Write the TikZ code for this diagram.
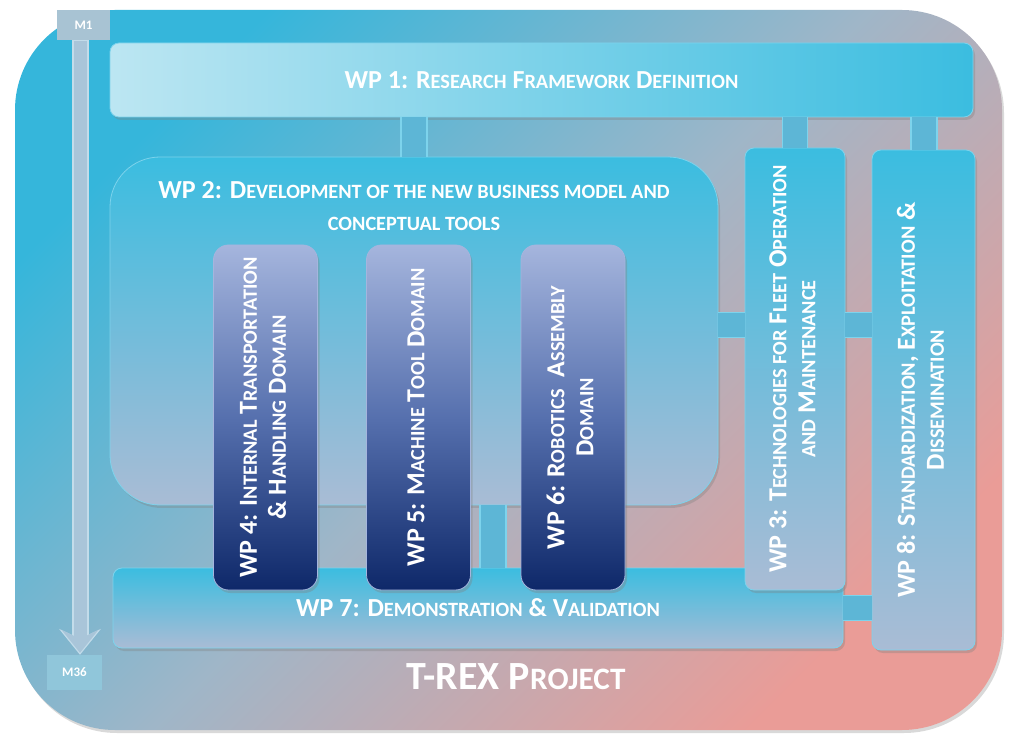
\documentclass[tikz,border=0pt]{standalone}
\usepackage{fontspec}
\setmainfont{Carlito}
\usetikzlibrary{shadows,arrows.meta}

\definecolor{outcyan}{HTML}{35B6DB}
\definecolor{outgrey}{HTML}{9FB6C8}
\definecolor{outpink}{HTML}{EA9C97}
\definecolor{wpcyan}{HTML}{3BBDE0}
\definecolor{wppale}{HTML}{BCE6F2}
\definecolor{wpgrey}{HTML}{A9BCD5}
\definecolor{wpedge}{HTML}{7DD3EC}
\definecolor{domtop}{HTML}{A5B5DD}
\definecolor{dommid}{HTML}{5670AE}
\definecolor{domnavy}{HTML}{0E2869}
\definecolor{linkblue}{HTML}{5DB6D6}
\definecolor{mgrey}{HTML}{A8C3D3}
\definecolor{mblue}{HTML}{90C6DA}
\definecolor{timeblue}{HTML}{A9C5D9}
\definecolor{timeedge}{HTML}{C3DCEA}

\newcommand{\sm}[1]{\scalebox{0.78}{#1}}

\begin{document}
\begin{tikzpicture}[x=1pt, y=1pt,
	every wp/.style={rounded corners=9pt, text=white, align=center, inner sep=0pt,
		font=\bfseries\fontsize{26}{29}\selectfont, draw=wpedge, line width=0.8pt,
		drop shadow={opacity=0.35, shadow xshift=2pt, shadow yshift=-3pt}},
	wp plain/.style={every wp, top color=wpcyan, bottom color=wpgrey},
	wp domain/.style={every wp, rounded corners=15pt, draw=domtop, top color=domtop, bottom color=domnavy, middle color=dommid},
	link/.style={draw=wpedge, line width=28pt, postaction={draw=linkblue, line width=24pt}},
	milestone/.style={text=white, font=\bfseries\fontsize{13}{15}\selectfont, inner sep=0pt}]

		\useasboundingbox (0,0) rectangle (1009,734);

		% project frame
		\node [rounded corners=100pt, minimum width=987pt, minimum height=720pt,
			top color=outcyan, bottom color=outpink, middle color=outgrey, shading angle=45,
			drop shadow={opacity=0.3, shadow xshift=2pt, shadow yshift=-3pt}] (trex) at (508.5,364) {};
		\node [text=white, font=\bfseries\fontsize{40}{46}\selectfont] (trex-title) at (516,57) {T-REX P\sm{ROJECT}};

		% time line
		\node [milestone, fill=mgrey, minimum width=53pt, minimum height=30pt] (m1) at (83.5,709) {M1};
		\node [milestone, fill=mblue, minimum width=55pt, minimum height=35pt] (m36) at (74.5,61.5) {M36};
		\coordinate (tl) at (80,0);
		\draw [draw=timeedge, line width=17pt, -{Stealth[length=26pt, width=42pt, inset=10pt, line width=0pt]}]
			(m1.south -| tl) -- (m36.north -| tl);
		\draw [draw=timeblue, line width=13pt, shorten <=1pt, shorten >=2pt, -{Stealth[length=23pt, width=37pt, inset=9pt, line width=0pt]}]
			(m1.south -| tl) -- (m36.north -| tl);

		% wp 1
		\node [every wp, left color=wppale, right color=wpcyan, minimum width=863pt, minimum height=74pt] (wp1) at (541.5,654)
			{WP 1: R\sm{ESEARCH} F\sm{RAMEWORK} D\sm{EFINITION}};

		% wp 2
		\node [wp plain, rounded corners=50pt, minimum width=608pt, minimum height=348pt] (wp2) at (414,403) {};
		\node [text=white, align=center, font=\bfseries\fontsize{26}{32}\selectfont, below=21pt] (wp2-title) at (wp2.north)
			{WP 2: D\sm{EVELOPMENT OF THE NEW BUSINESS MODEL AND}\\ \sm{CONCEPTUAL TOOLS}};

		% wp 7
		\node [wp plain, minimum width=730pt, minimum height=80pt] (wp7) at (478,126)
			{\raisebox{-4pt}{WP 7: D\sm{EMONSTRATION} \& V\sm{ALIDATION}}};

		% domains
		\foreach \n/\x/\l in {4/265.5/{WP 4: I\sm{NTERNAL} T\sm{RANSPORTATION}\\ \& H\sm{ANDLING} D\sm{OMAIN}},
				5/418.5/{WP 5: M\sm{ACHINE} T\sm{OOL} D\sm{OMAIN}},
				6/573/{WP 6: R\sm{OBOTICS}\ \ A\sm{SSEMBLY}\\ D\sm{OMAIN}}}
			\node [wp domain, minimum width=104pt, minimum height=345pt] (wp\n) at (\x,316.5)
				{\rotatebox{90}{\begin{tabular}{@{}c@{}}\l\end{tabular}}};

		% wp 3 and wp 8
		\node [wp plain, minimum width=100pt, minimum height=442pt] (wp3) at (795,365)
			{\rotatebox{90}{\begin{tabular}{@{}c@{}}WP 3: T\sm{ECHNOLOGIES FOR} F\sm{LEET} O\sm{PERATION}\\ \sm{AND} M\sm{AINTENANCE}\end{tabular}}};
		\node [wp plain, minimum width=103pt, minimum height=500pt] (wp8) at (923.5,334)
			{\rotatebox{90}{\begin{tabular}{@{}c@{}}WP 8: S\sm{TANDARDIZATION}, E\sm{XPLOITATION} \&\\ D\sm{ISSEMINATION}\end{tabular}}};

		% links
		\coordinate (mid) at (0,409);
		\coordinate (c27) at (493,0);
		\draw [link] (wp1.south -| wp2.north) -- (wp2.north);
		\draw [link, line width=26pt, postaction={line width=22pt}] (wp1.south -| wp3.north) -- (wp3.north);
		\draw [link] (wp1.south -| wp8.north) -- (wp8.north);
		\draw [link, line width=26pt] (wp2.east |- mid) -- (wp3.west |- mid);
		\draw [link, line width=26pt] (wp3.east |- mid) -- (wp8.west |- mid);
		\draw [link, line width=26pt] (wp7.east) -- (wp7.east -| wp8.west);
		\draw [link] (wp2.south -| c27) -- (wp7.north -| c27);

\end{tikzpicture}
\end{document}
